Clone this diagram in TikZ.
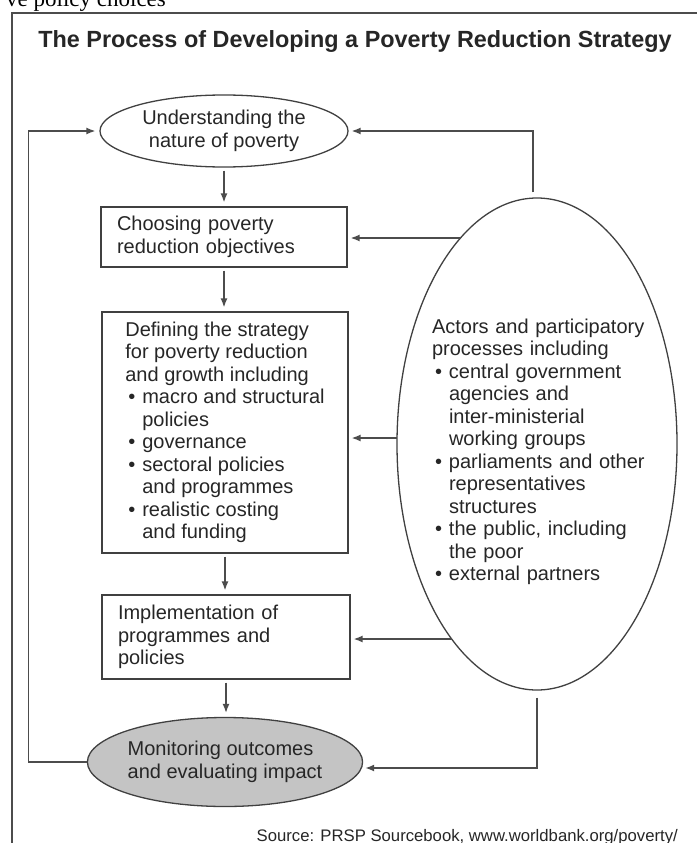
\documentclass[tikz,border=0pt]{standalone}
\usepackage{fontspec}
\setmainfont{Liberation Sans}
\newfontfamily\pageserif{Liberation Serif}
\usetikzlibrary{arrows.meta,shapes.geometric}
\newcommand{\bitem}{\makebox[17pt][l]{\hspace{3pt}\textbullet}}
\newcommand{\bcont}{\hspace*{17pt}}

\begin{document}
\begin{tikzpicture}[x=1pt,y=-1pt,font=\fontsize{20pt}{22.5pt}\selectfont,text=black!85,
  stepbox/.style={rectangle,draw=black!75,line width=1.3pt,align=left,inner ysep=0pt},
  oval/.style={ellipse,draw=black!75,line width=1.3pt,inner sep=0pt},
  arr/.style={draw=black!70,line width=1.4pt,-{Latex[length=9pt,width=7pt]}}]
\useasboundingbox (0,0) rectangle (697,843);
\clip (0,0) rectangle (697,843);
% end of the page text above, cut off, and the frame round the figure
\node[font=\pageserif\fontsize{23pt}{26pt}\selectfont,text=black,anchor=base west,inner sep=0pt]
  (cut) at (6,7) {ve policy choices};
\draw[black!70,line width=1.5pt] (12,843) -- (12,13) -- (697,13);
\node[font=\bfseries\fontsize{23.4pt}{26pt}\selectfont,anchor=base,inner sep=0pt]
  (title) at (355,48) {The Process of Developing a Poverty Reduction Strategy};
% the steps, top to bottom
\node[oval,minimum width=248pt,minimum height=72pt,align=center] (nature) at (224,131)
  {Understanding the\\nature of poverty};
\node[stepbox,text width=214pt,inner xsep=16pt,minimum height=60pt] (objectives) at (224,237)
  {Choosing poverty\\reduction objectives};
\node[stepbox,minimum width=246pt,minimum height=241pt] (strategy) at (225,432.5)
  {Defining the strategy\\for poverty reduction\\and growth including\\
   \bitem macro and structural\\\bcont policies\\\bitem governance\\
   \bitem sectoral policies\\\bcont and programmes\\\bitem realistic costing\\\bcont and funding};
\node[stepbox,text width=216pt,inner xsep=16pt,minimum height=84pt] (implement) at (226,637)
  {Implementation of\\programmes and\\policies};
\node[oval,fill=black!23,minimum width=254pt,minimum height=89pt,align=left] (monitor) at (225,762)
  {Monitoring outcomes\\and evaluating impact};
% actors, on the right
\node[oval,minimum width=280pt,minimum height=492pt] (actors) at (537,444) {};
\node[align=left,text width=214pt,inner sep=0pt] (actorstext) at (539,452)
  {Actors and participatory\\processes including\\
   \bitem central government\\\bcont agencies and\\\bcont inter-ministerial\\\bcont working groups\\
   \bitem parliaments and other\\\bcont representatives\\\bcont structures\\
   \bitem the public, including\\\bcont the poor\\\bitem external partners};
% connectors
\foreach \a/\b in {nature/objectives,objectives/strategy,strategy/implement,implement/monitor}
  \draw[arr,shorten <=3pt,shorten >=4pt] (\a.south) -- (\a.south |- \b.north);
\foreach \x/\y/\b in {461/238/objectives,397/438/strategy,452/639/implement} {
  \coordinate (src-\b) at (\x,\y);
  \draw[arr,shorten >=3pt] (src-\b) -- (src-\b -| \b.east);
}
\draw[arr,shorten >=3pt] ([xshift=-4pt,yshift=5pt]actors.north) |- (nature.east);
\draw[arr,shorten >=2pt] ([yshift=-7pt]actors.south) |- ([yshift=-6pt]monitor.east);
\draw[arr,shorten >=4pt] (monitor.west) -- ++(-58,0) |- (nature.west);
\node[font=\fontsize{16.7pt}{20pt}\selectfont,anchor=base east,inner sep=0pt]
  (source) at (678,841) {Source: PRSP Sourcebook, www.worldbank.org/poverty/};
\end{tikzpicture}
\end{document}
